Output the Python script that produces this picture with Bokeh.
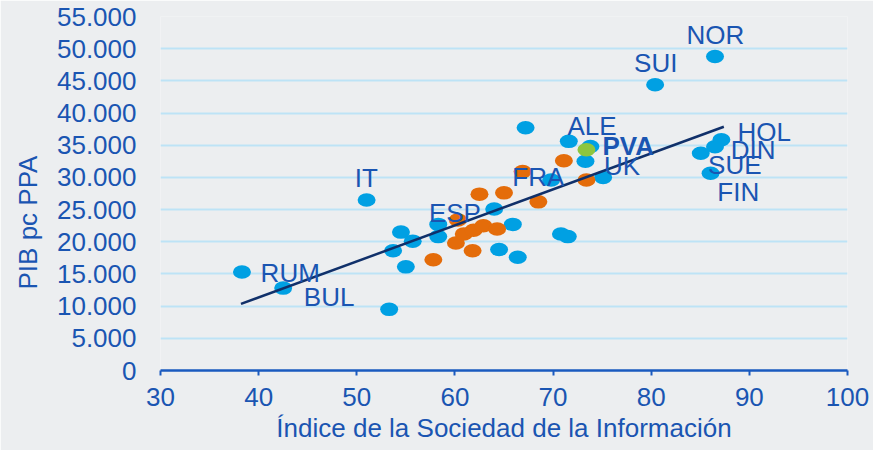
from bokeh.plotting import figure
from bokeh.models import Range1d, FixedTicker, ColumnDataSource, Title
from bokeh.core.properties import value
from bokeh.embed import file_html
from bokeh.resources import INLINE

# ---------------- data ----------------
# European countries (blue)
blue_x = [38.3, 42.5, 51.0, 53.3, 54.5, 55.7, 53.7, 55.0, 58.3, 58.3,
          64.5, 66.4, 65.9, 64.0, 70.8, 71.5, 69.8, 67.2, 71.6, 73.8,
          73.3, 75.1, 80.4, 86.5, 85.05, 86.5, 87.15, 86.05]
blue_y = [15300, 12800, 26500, 9500, 21500, 20100, 18600, 16100, 22700, 20800,
          18800, 17600, 22700, 25100, 21200, 20800, 29600, 37700, 35600, 34800,
          32500, 30000, 44400, 48800, 33750, 34750, 35850, 30650]

# Spanish regions (orange)
orange_x = [57.8, 60.1, 61.8, 60.9, 61.9, 62.9, 64.3, 60.3, 62.5, 65.0,
            66.9, 68.5, 71.1, 73.4]
orange_y = [17200, 19800, 18600, 21200, 21800, 22500, 22000, 23400, 27400, 27600,
            30900, 26200, 32600, 29600]

# País Vasco (green)
green_x = [73.4]
green_y = [34300]

# trend line end points
trend_x = [38.2, 87.4]
trend_y = [10350, 37870]

# point labels (left edge, vertical middle)
label_text = ["NOR", "SUI", "IT", "RUM", "BUL", "ESP", "FRA", "ALE", "UK",
              "HOL", "DIN", "SUE", "FIN"]
label_x = [83.6, 78.25, 49.8, 40.2, 44.6, 57.35, 65.85, 71.46, 75.19,
           88.78, 88.1, 85.79, 86.74]
label_y = [52070, 47720, 29880, 15130, 11450, 24440, 30000, 38020, 31770,
           37120, 34220, 32000, 27670]
bold_text = ["PVA"]
bold_x = [75.03]
bold_y = [34920]

x_ticks = [30, 40, 50, 60, 70, 80, 90, 100]
y_ticks = [0, 5000, 10000, 15000, 20000, 25000, 30000, 35000, 40000, 45000, 50000, 55000]
y_tick_labels = ["0", "5.000", "10.000", "15.000", "20.000", "25.000", "30.000",
                 "35.000", "40.000", "45.000", "50.000", "55.000"]
x_title = "Índice de la Sociedad de la Información"
y_title = "PIB pc PPA"

# ---------------- style ----------------
FONT = "Liberation Sans"
TXT = "#1A55B2"
BG = "#ECEEF0"
BLUE = "#00A0E3"
ORANGE = "#E46C0A"
GREEN = "#8DC63F"
FS = "26px"

p = figure(width=873, height=450, output_backend="svg", toolbar_location=None,
           x_range=Range1d(30, 100), y_range=Range1d(0, 55000),
           min_border_left=160, min_border_right=26, min_border_top=16,
           min_border_bottom=80)
p.background_fill_color = BG
p.border_fill_color = BG
p.outline_line_color = None

p.xgrid.grid_line_color = None
p.ygrid.grid_line_color = "#BDE3F6"
p.ygrid.grid_line_width = 2

p.xaxis.ticker = FixedTicker(ticks=x_ticks)
p.yaxis.ticker = FixedTicker(ticks=y_ticks)
p.yaxis.major_label_overrides = {t: l for t, l in zip(y_ticks, y_tick_labels)}

for ax in (p.xaxis, p.yaxis):
    ax.major_label_text_font = FONT
    ax.major_label_text_font_size = FS
    ax.major_label_text_color = TXT
    ax.minor_tick_line_color = None

p.xaxis.axis_line_color = "#1A5ABF"
p.xaxis.axis_line_width = 2.5
p.xaxis.major_tick_line_color = "#1A5ABF"
p.xaxis.major_tick_line_width = 2
p.xaxis.major_tick_out = 5
p.xaxis.major_tick_in = 0
p.xaxis.major_label_standoff = 12
p.xaxis.axis_label = x_title
p.xaxis.axis_label_text_font = FONT
p.xaxis.axis_label_text_font_size = FS
p.xaxis.axis_label_text_font_style = "normal"
p.xaxis.axis_label_text_color = TXT
p.xaxis.axis_label_standoff = 4

p.yaxis.axis_line_color = None
p.yaxis.major_tick_line_color = None
p.yaxis.major_tick_out = 0
p.yaxis.major_tick_in = 0
p.yaxis.major_label_standoff = 24

p.add_layout(Title(text=y_title, align="left", offset=81, standoff=21,
                   text_font=FONT, text_font_size=FS,
                   text_font_style="normal", text_color=TXT), "left")

# points
p.ellipse(x=blue_x, y=blue_y, width=18, height=13.5, width_units="screen",
          height_units="screen", fill_color=BLUE, line_color=None)
p.ellipse(x=orange_x, y=orange_y, width=18, height=13.5, width_units="screen",
          height_units="screen", fill_color=ORANGE, line_color=None)
p.ellipse(x=green_x, y=green_y, width=18, height=13.5, width_units="screen",
          height_units="screen", fill_color=GREEN, line_color=None)

# trend line
p.line(x=trend_x, y=trend_y, line_color="#10306A", line_width=2.5)

# labels
lab = ColumnDataSource(dict(x=label_x, y=label_y, t=label_text))
p.text(x="x", y="y", text="t", source=lab, text_font=value(FONT),
       text_font_size=FS, text_color=TXT, text_align="left",
       text_baseline="middle")
p.text(x=bold_x, y=bold_y, text=bold_text, text_font=value(FONT),
       text_font_size=FS, text_font_style="bold", text_color=TXT,
       text_align="left", text_baseline="middle")

open("out.html", "w").write(file_html(p, INLINE))
